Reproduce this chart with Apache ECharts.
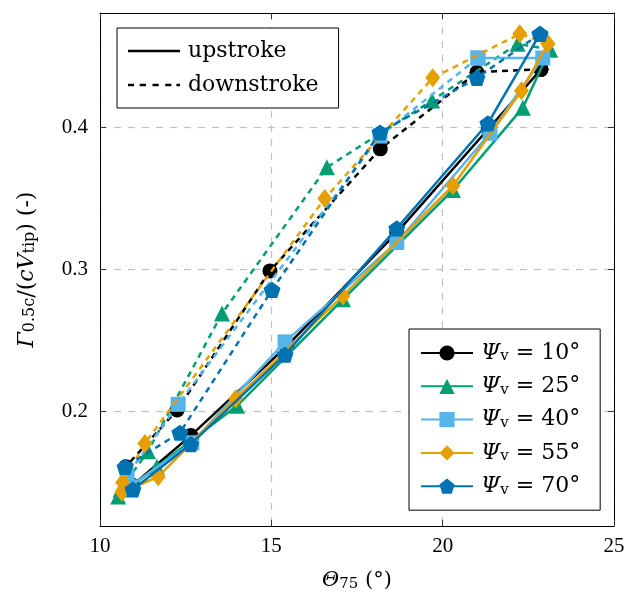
<!DOCTYPE html>
<html><head><meta charset="utf-8">
<script src="https://cdn.jsdelivr.net/npm/echarts@6/dist/echarts.min.js"></script>
<style>html,body{margin:0;padding:0;background:#fff}#c{width:630px;height:597px}</style>
</head><body><div id="c"></div>
<script>
// ---- data (Θ75 in degrees, Γ normalized) ----
const psiValues = ['10', '25', '40', '55', '70'];
const xTicks = [10, 15, 20, 25];
const yTicks = [0.2, 0.3, 0.4];

const up10 = [[10.95,0.148],[12.65,0.183],[15.45,0.246],[18.66,0.326],[21.33,0.399],[22.87,0.441]];
const down10 = [[22.87,0.441],[21.0,0.439],[18.18,0.385],[14.96,0.299],[12.25,0.201],[10.75,0.161]];

const up25 = [[10.53,0.140],[11.66,0.161],[14.0,0.204],[17.09,0.279],[20.3,0.356],[22.34,0.414],[23.13,0.455]];
const down25 = [[23.13,0.455],[22.19,0.459],[19.69,0.419],[16.62,0.372],[13.56,0.269],[11.4,0.172],[10.6,0.145]];

const up40 = [[10.85,0.147],[12.68,0.178],[15.4,0.249],[18.66,0.319],[21.38,0.396],[22.92,0.449],[21.03,0.449]];
const down40 = [[21.03,0.449],[18.17,0.394],[12.28,0.205],[10.79,0.155]];

const up55 = [[10.64,0.143],[11.7,0.154],[13.96,0.209],[17.09,0.2814],[20.3,0.359],[22.3,0.426],[23.07,0.459]];
const down55 = [[23.07,0.459],[22.25,0.466],[19.71,0.435],[16.56,0.35],[11.31,0.1775],[10.66,0.15]];

const up70 = [[10.96,0.145],[12.65,0.177],[15.4,0.24],[18.66,0.329],[21.32,0.403],[22.84,0.466]];
const down70 = [[22.84,0.466],[21.0,0.435],[18.17,0.3965],[15.02,0.2856],[12.33,0.185],[10.73,0.161]];

const upData = [up10, up25, up40, up55, up70];
const downData = [down10, down25, down40, down55, down70];

// ---- styling ----
const colors = ['#000000', '#009E73', '#56B4E9', '#E69F00', '#0072B2'];
const pentagon = 'path://M0,-1L0.951,-0.309L0.588,0.809L-0.588,0.809L-0.951,-0.309Z';
const symbols = ['circle', 'triangle', 'rect', 'diamond', pentagon];
const symSizes = [15, 16, 15, [15, 19], 17];
const FONT = 'Liberation Serif';
const LFONT = 'DejaVu Serif';

const solidIcon = 'path://M0,0M52,22M0,9.75L52,9.75L52,12.25L0,12.25Z';
const dashIcon = 'path://M0,0M52,22' +
  'M0,9.75L6,9.75L6,12.25L0,12.25Z' +
  'M11.7,9.75L18,9.75L18,12.25L11.7,12.25Z' +
  'M24.5,9.75L30.7,9.75L30.7,12.25L24.5,12.25Z' +
  'M37.2,9.75L43.4,9.75L43.4,12.25L37.2,12.25Z' +
  'M48.4,9.75L52,9.75L52,12.25L48.4,12.25Z';

const psiName = v => 'Ψv = ' + v + '°';
const series = [];
series.push({name: 'upstroke', type: 'line', data: [], symbol: 'none', color: '#000',
  lineStyle: {color: '#000', width: 2.5, type: 'solid'}});
series.push({name: 'downstroke', type: 'line', data: [], symbol: 'none', color: '#000',
  lineStyle: {color: '#000', width: 2.5, type: [6, 5]}});
psiValues.forEach((v, i) => {
  const common = {
    type: 'line', symbol: symbols[i], symbolSize: symSizes[i], symbolKeepAspect: true,
    color: colors[i], itemStyle: {color: colors[i], borderWidth: 0}, showSymbol: true,
    animation: false, z: 2 + i
  };
  series.push(Object.assign({}, common, {name: psiName(v), data: upData[i],
    lineStyle: {color: colors[i], width: 2.5, type: 'solid'}}));
  series.push(Object.assign({}, common, {name: psiName(v) + ' down', data: downData[i],
    lineStyle: {color: colors[i], width: 2.5, type: [6, 5]}}));
});

function rich(fam, size, subSize) {
  return {
    n: {fontFamily: fam, fontSize: size, lineHeight: 22, color: '#000'},
    i: {fontFamily: fam, fontSize: size, lineHeight: 22, fontStyle: 'italic', color: '#000'},
    sub: {fontFamily: fam, fontSize: subSize, lineHeight: 10, verticalAlign: 'bottom', color: '#000'}
  };
}

const option = {
  animation: false,
  backgroundColor: '#fff',
  grid: {left: 100, top: 13, right: 16, bottom: 70, containLabel: false},
  xAxis: [{
    type: 'value', min: 10, max: 25, interval: 5, position: 'bottom',
    axisLine: {show: true, onZero: false, lineStyle: {color: '#000', width: 1}},
    axisTick: {show: true, inside: true, length: 6, lineStyle: {color: '#333'}},
    axisLabel: {fontFamily: FONT, fontSize: 21, color: '#000', margin: 10},
    splitLine: {show: true, lineStyle: {color: '#c0c0c0', width: 1.2, type: [7, 7]}},
    name: '{i|Θ}{sub|75}{n| (°)}', nameLocation: 'middle', nameGap: 44,
    nameTextStyle: {rich: rich(LFONT, 21, 15)}
  }, {
    type: 'value', min: 10, max: 25, interval: 5, position: 'top',
    axisLine: {show: true, onZero: false, lineStyle: {color: '#000', width: 1}},
    axisTick: {show: true, inside: true, length: 6, lineStyle: {color: '#333'}},
    axisLabel: {show: false}, splitLine: {show: false}
  }],
  yAxis: [{
    type: 'value', min: 0.1193, max: 0.4807, position: 'left',
    axisLine: {show: true, onZero: false, lineStyle: {color: '#000', width: 1}},
    axisTick: {show: true, inside: true, length: 6, customValues: yTicks, lineStyle: {color: '#333'}},
    axisLabel: {fontFamily: FONT, fontSize: 21, color: '#000', margin: 12, customValues: yTicks,
      formatter: v => v.toFixed(1)},
    splitLine: {show: true, lineStyle: {color: '#c0c0c0', width: 1.2, type: [7, 7]}},
    name: '{i|Γ}{sub|0.5c}{n|/(}{i|cV}{sub|tip}{n|) (-)}', nameLocation: 'middle', nameGap: 62, nameRotate: 90,
    nameTextStyle: {rich: rich(LFONT, 22, 16)}
  }, {
    type: 'value', min: 0.1193, max: 0.4807, position: 'right',
    axisLine: {show: true, onZero: false, lineStyle: {color: '#000', width: 1}},
    axisTick: {show: true, inside: true, length: 6, customValues: yTicks, lineStyle: {color: '#333'}},
    axisLabel: {show: false, customValues: yTicks}, splitLine: {show: false}
  }],
  legend: [{
    data: [{name: 'upstroke', icon: solidIcon}, {name: 'downstroke', icon: dashIcon}],
    orient: 'vertical', left: 117, top: 28,
    itemWidth: 52, itemHeight: 22, itemGap: 12,
    padding: [12, 20, 12, 11],
    borderColor: '#000', borderWidth: 1, backgroundColor: '#fff',
    textStyle: {fontFamily: LFONT, fontSize: 22, lineHeight: 22, color: '#000', padding: [0, 0, 0, 3]},
    selectedMode: false
  }, {
    data: psiValues.map(psiName), orient: 'vertical', left: 409, top: 329,
    itemWidth: 52, itemHeight: 19, itemGap: 11.3,
    padding: [13, 20, 13, 11],
    borderColor: '#000', borderWidth: 1, backgroundColor: '#fff',
    formatter: name => {
      const v = name.replace('Ψv = ', '').replace('°', '');
      return '{i|Ψ}{sub|v}{n| = ' + v + '°}';
    },
    textStyle: {fontFamily: LFONT, fontSize: 22, lineHeight: 22, color: '#000', padding: [0, 0, 0, 3],
      rich: rich(LFONT, 22, 15)},
    selectedMode: false
  }],
  series: series
};

const chart = echarts.init(document.getElementById('c'), null, {renderer: 'canvas'});
chart.setOption(option);
</script>
</body></html>
